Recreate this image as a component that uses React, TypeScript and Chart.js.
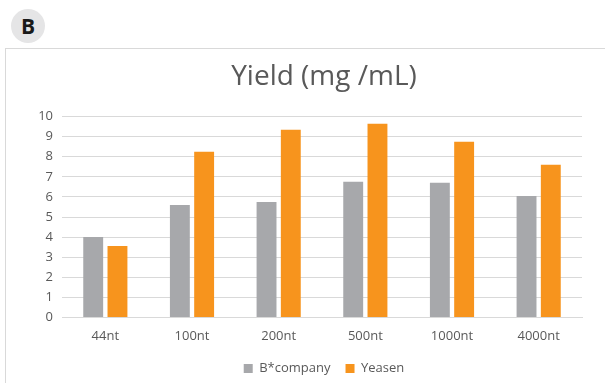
import React, { useEffect, useRef } from "react";
import { Chart, registerables } from "chart.js";

Chart.register(...registerables);

const categories = ["44nt", "100nt", "200nt", "500nt", "1000nt", "4000nt"];
const bCompany = [4.0, 5.6, 5.75, 6.75, 6.7, 6.05];
const yeasen = [3.55, 8.25, 9.35, 9.65, 8.75, 7.6];
const seriesNames = ["B*company", "Yeasen"];
const titleText = "Yield (mg /mL)";

const FONT = "'Open Sans', 'Noto Sans', sans-serif";
const CW = 636;
const CH = 336;

export default function App() {
  const ref = useRef<HTMLCanvasElement | null>(null);
  useEffect(() => {
    if (!ref.current) return;
    const chart = new Chart(ref.current, {
      type: "bar",
      data: {
        labels: categories,
        datasets: [
          {
            label: seriesNames[0],
            data: bCompany,
            backgroundColor: "#A7A8AB",
            barPercentage: 0.82,
            categoryPercentage: 0.56,
          },
          {
            label: seriesNames[1],
            data: yeasen,
            backgroundColor: "#F7941D",
            barPercentage: 0.82,
            categoryPercentage: 0.56,
          },
        ],
      },
      options: {
        animation: false,
        responsive: false,
        maintainAspectRatio: false,
        layout: { padding: 0 },
        plugins: {
          title: {
            display: true,
            text: titleText,
            color: "#595959",
            font: { family: FONT, size: 28, weight: "normal" },
            padding: { top: 11, bottom: 23 },
          },
          legend: {
            position: "bottom",
            labels: {
              boxWidth: 9,
              boxHeight: 9,
              color: "#595959",
              font: { family: FONT, size: 13 },
              padding: 15,
            },
          },
          tooltip: { enabled: false },
        },
        scales: {
          x: {
            grid: { display: false },
            border: { color: "#D9D9D9", width: 1 },
            ticks: { color: "#595959", font: { family: FONT, size: 13 }, padding: 3 },
          },
          y: {
            min: 0,
            max: 10,
            ticks: { stepSize: 1, color: "#595959", font: { family: FONT, size: 13 }, padding: 9 },
            grid: { color: "#D9D9D9", lineWidth: 1, drawTicks: false },
            border: { display: false },
            afterFit: (s: any) => {
              s.width = 56;
            },
          },
          yr: {
            type: "linear",
            position: "right",
            display: true,
            ticks: { display: false },
            grid: { display: false },
            border: { display: false },
            afterFit: (s: any) => {
              s.width = CW + 6 - 582;
            },
          },
        },
      },
    });
    return () => chart.destroy();
  }, []);

  return (
    <div style={{ position: "absolute", left: 0, top: 0, width: 605, height: 383, background: "#fff", overflow: "hidden" }}>
      <div
        style={{
          position: "absolute",
          left: 11,
          top: 9,
          width: 34,
          height: 34,
          borderRadius: "50%",
          background: "#E5E5E6",
          color: "#1a1a1a",
          fontFamily: "'Open Sans', sans-serif",
          fontWeight: 700,
          fontSize: 21,
          lineHeight: "34px",
          textAlign: "center",
        }}
      >
        B
      </div>
      <div
        style={{
          position: "absolute",
          left: 5,
          top: 48,
          width: 660,
          height: 400,
          border: "1px solid #D9D9D9",
        }}
      />
      <canvas ref={ref} width={CW} height={CH} style={{ position: "absolute", left: 6, top: 49, width: CW, height: CH }} />
    </div>
  );
}
